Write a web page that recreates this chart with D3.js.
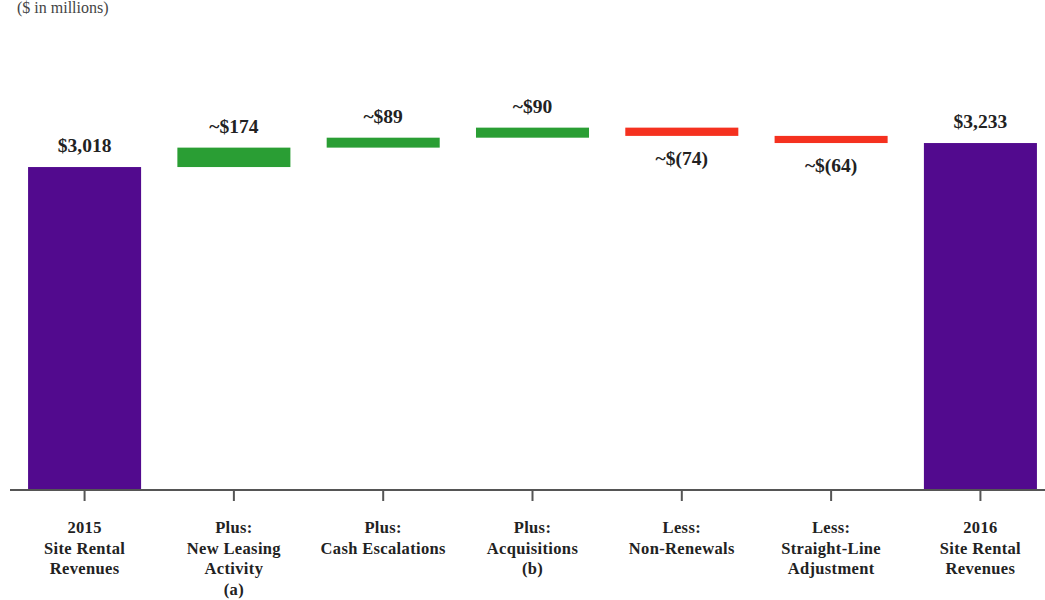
<!DOCTYPE html>
<html><head><meta charset="utf-8">
<script src="https://cdn.jsdelivr.net/npm/d3@7"></script>
<style>body{margin:0;background:#fff}svg{display:block}</style>
</head><body>
<script>
const categories = [
  ["2015","Site Rental","Revenues"],
  ["Plus:","New Leasing","Activity","(a)"],
  ["Plus:","Cash Escalations"],
  ["Plus:","Acquisitions","(b)"],
  ["Less:","Non-Renewals"],
  ["Less:","Straight-Line","Adjustment"],
  ["2016","Site Rental","Revenues"]
];
const values = [3018, 174, 89, 90, -74, -64, 3233];
const kinds = ["total","delta","delta","delta","delta","delta","total"];
const valueLabels = ["$3,018","~$174","~$89","~$90","~$(74)","~$(64)","$3,233"];
const subtitle = "($ in millions)";

const W = 1045, H = 600;
const svg = d3.select("body").append("svg").attr("width", W).attr("height", H);

let run = 0;
const bars = values.map((v, i) => {
  let y0, y1;
  if (kinds[i] === "total") { y0 = null; y1 = v; run = v; }
  else { y0 = run; y1 = run + v; run = y1; }
  return {i, v, y0, y1, kind: kinds[i], label: valueLabels[i], cat: categories[i]};
});

const x = d3.scaleBand().domain(d3.range(categories.length)).range([10, 1055]).paddingInner(0.243).paddingOuter(0.121);
const y = d3.scaleLinear().domain([125, 3400]).range([490, 124.4]);

const colors = {total: "#520a8e", up: "#2a9e34", down: "#f5311f"};

svg.append("text").attr("x", 17).attr("y", 13).attr("font-family", "Liberation Serif")
  .attr("font-size", 16).attr("fill", "#444").text(subtitle);

const bw = x.bandwidth();
bars.forEach(b => {
  let top, bot, col;
  if (b.kind === "total") { top = y(b.y1); bot = y.range()[0]; col = colors.total; }
  else if (b.v >= 0) { top = y(b.y1); bot = y(b.y0); col = colors.up; }
  else { top = y(b.y0); bot = y(b.y1); col = colors.down; }
  svg.append("rect").attr("x", x(b.i)).attr("y", top).attr("width", bw).attr("height", bot - top).attr("fill", col);
  const cx = x(b.i) + bw / 2;
  const ty = (b.kind === "total" || b.v >= 0) ? top - 15 : bot + 29;
  svg.append("text").attr("x", cx).attr("y", ty).attr("text-anchor", "middle")
    .attr("font-family", "Liberation Serif").attr("font-weight", "bold").attr("font-size", 19.5)
    .attr("fill", "#222").text(b.label);
});

const axisG = svg.append("g").attr("transform", `translate(0,${y.range()[0]})`);
axisG.append("line").attr("x1", 10).attr("x2", W).attr("y1", 0).attr("y2", 0).attr("stroke", "#555").attr("stroke-width", 2);
categories.forEach((c, i) => {
  const cx = x(i) + bw / 2;
  axisG.append("line").attr("x1", cx).attr("x2", cx).attr("y1", 0).attr("y2", 11).attr("stroke", "#555").attr("stroke-width", 2);
  const t = axisG.append("text").attr("text-anchor", "middle").attr("font-family", "Liberation Serif")
    .attr("font-weight", "bold").attr("font-size", 16.5).attr("letter-spacing", 0.35).attr("fill", "#222");
  c.forEach((line, k) => t.append("tspan").attr("x", cx).attr("y", 43 + k * 20.6).text(line));
});
</script>
</body></html>
